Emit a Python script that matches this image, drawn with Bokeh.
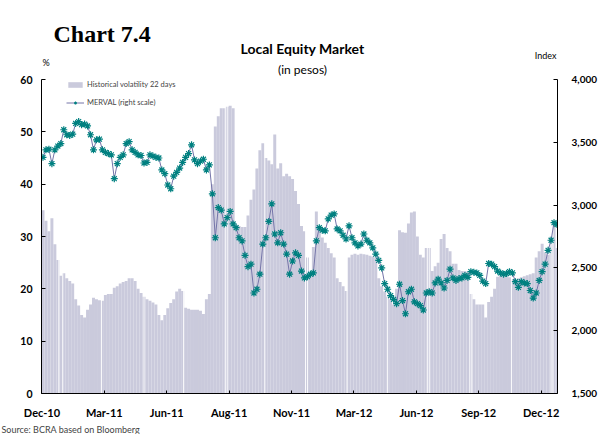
from bokeh.plotting import figure
from bokeh.models import (Range1d, LinearAxis, FixedTicker, NumeralTickFormatter,
                          Label, Legend, LegendItem, ColumnDataSource, Title)
from bokeh.embed import file_html
from bokeh.resources import INLINE

# ---- data ----
tick_days = [0, 63, 126, 189, 252, 315, 378, 441, 504]
tick_labels = ["Dec-10", "Mar-11", "Jun-11", "Aug-11", "Nov-11",
               "Mar-12", "Jun-12", "Sep-12", "Dec-12"]
sample_step_days = 3

# Historical volatility 22 days (%), one value every 3 trading days
volatility = [35, 33, 31, 33.5, 28.5, 25.5, 22.5, 23, 22, 21.5,
              21, 18, 16.8, 15, 14.5, 16, 17, 18.3, 18, 17.8,
              17.7, 18.8, 19, 19, 20.2, 20.5, 21, 21.3, 21.5, 22,
              22, 21.5, 20, 19.2, 18.5, 18, 17.7, 17.4, 17, 15,
              14, 15, 16.3, 17.3, 18, 19.5, 20, 19.6, 16.4, 16.2,
              16, 16, 16, 15.8, 15.2, 18, 19, 40, 51, 53,
              54.5, 54.5, 54.8, 55, 54.5, 32.3, 32, 31.8, 31.8, 34,
              37, 39, 43, 46.5, 47.8, 45, 44.5, 43.8, 49.5, 43,
              44, 41.5, 42, 41.5, 41, 38.7, 36.2, 32, 31, 26,
              23, 28, 34.8, 31.5, 29.8, 28.8, 27.8, 26.8, 26, 22,
              21.3, 20.5, 19.6, 26, 26.5, 26.7, 26.5, 26.7, 26.6, 26.5,
              26.3, 26.2, 26, 22, 20.5, 19.5, 18.5, 18, 17, 20,
              31.2, 30.8, 30.7, 32.5, 34.6, 34.8, 30, 26.5, 26, 27.8,
              27.8, 23.4, 24.3, 25, 29.5, 30.5, 27.8, 27.2, 24.8, 24.8,
              23.6, 23.4, 23.4, 23.2, 19, 18, 17, 17, 17, 14.5,
              17.5, 18.5, 20, 22.3, 22.8, 22.8, 22.5, 22.2, 21.8, 21.6,
              22, 22.2, 22.4, 22.6, 22.8, 23, 26, 27.2, 28.6, 27,
              26.5, 30, 32.4, 27.8]

# MERVAL index (right scale), one value every 3 trading days
merval = [3380, 3440, 3445, 3330, 3440, 3470, 3490, 3600, 3560, 3555,
          3565, 3650, 3665, 3640, 3645, 3630, 3560, 3440, 3520, 3525,
          3440, 3420, 3410, 3400, 3210, 3330, 3380, 3400, 3490, 3505,
          3440, 3420, 3400, 3395, 3335, 3340, 3400, 3390, 3380, 3375,
          3280, 3250, 3160, 3130, 3230, 3260, 3295, 3340, 3380, 3410,
          3480, 3360, 3330, 3350, 3365, 3280, 3320, 3090, 2740, 2980,
          2960, 2850, 2900, 2950, 2850, 2820, 2740, 2715, 2600, 2510,
          2530, 2300, 2330, 2450, 2690, 2740, 2870, 3010, 2770, 2700,
          2780, 2690, 2610, 2450, 2555, 2620, 2600, 2475, 2420, 2430,
          2450, 2460, 2715, 2820, 2800, 2795, 2890, 2920, 2930, 2810,
          2795, 2760, 2730, 2835, 2740, 2700, 2675, 2690, 2770, 2720,
          2700, 2660, 2610, 2560, 2500, 2375, 2330, 2280, 2250, 2215,
          2370, 2240, 2135, 2310, 2330, 2230, 2215, 2200, 2165, 2300,
          2310, 2300, 2380, 2410, 2380, 2340, 2400, 2490, 2420, 2400,
          2415, 2420, 2440, 2425, 2470, 2465, 2460, 2440, 2395, 2375,
          2535, 2530, 2510, 2475, 2460, 2450, 2455, 2470, 2460, 2390,
          2345, 2390, 2380, 2375, 2320, 2260, 2300, 2400, 2470, 2530,
          2640, 2720, 2860, 2845]

# trading days with no volatility observation
vol_gap_days = [17, 21, 60, 103, 143, 185, 187, 225, 266, 268, 308,
                349, 389, 391, 432, 434, 474, 514, 516]

vol_ticks = [0, 10, 20, 30, 40, 50, 60]
merval_ticks = [1500, 2000, 2500, 3000, 3500, 4000]

n_days = 521
days = [i * sample_step_days + 1 for i in range(len(volatility))]

# ---- styling / layout ----
FONT = "Lato"
BAR_COLOR = "#CACADC"
TEAL = "#008080"
LINE_COLOR = "#7474A8"

W, H = 600, 434
LEFT, RIGHT, BOTTOM = 41, 41, 41
PLOT_TOP = 79                      # pixel row of the 60 / 4,000 level
frame_h = H - BOTTOM               # frame reaches the top of the canvas
data_h = frame_h - PLOT_TOP
ext = frame_h / data_h             # range extension so titles fit in the frame

p = figure(width=W, height=H, output_backend="svg", toolbar_location=None,
           x_range=Range1d(-0.5, n_days - 0.5),
           y_range=Range1d(0, vol_ticks[-1] * ext),
           min_border_left=LEFT, min_border_right=RIGHT, min_border_top=0,
           min_border_bottom=BOTTOM)
p.extra_y_ranges = {"merval": Range1d(merval_ticks[0],
                                      merval_ticks[0] + (merval_ticks[-1] - merval_ticks[0]) * ext)}
p.outline_line_color = None
p.xgrid.visible = False
p.ygrid.visible = False
p.background_fill_color = "white"
p.border_fill_color = "white"

src = ColumnDataSource(dict(day=days, vol=volatility, merval=merval))

bars = p.vbar(x="day", top="vol", width=sample_step_days, source=src,
              fill_color=BAR_COLOR, line_color=None)
p.vbar(x=vol_gap_days, top=vol_ticks[-1], width=0.9, fill_color="white", line_color=None)

line = p.line(x="day", y="merval", source=src, y_range_name="merval",
              line_color=LINE_COLOR, line_width=1)
marks = p.scatter(x="day", y="merval", source=src, y_range_name="merval",
                  marker="asterisk", size=7, line_color=TEAL, line_width=1.2)

# axes
def style_axis(ax, fs="10.5px"):
    ax.axis_line_color = "black"
    ax.axis_line_width = 1
    ax.major_tick_line_color = "black"
    ax.major_tick_in = 4
    ax.major_tick_out = 0
    ax.minor_tick_line_color = None
    ax.major_label_text_font = FONT
    ax.major_label_text_font_style = "bold"
    ax.major_label_text_font_size = fs
    ax.major_label_text_color = "black"

xa = p.xaxis[0]
style_axis(xa, "11px")
xa.ticker = FixedTicker(ticks=tick_days)
xa.major_label_overrides = {d: lab for d, lab in zip(tick_days, tick_labels)}
xa.major_tick_in = 3
xa.major_label_standoff = 12

ya = p.yaxis[0]
style_axis(ya)
ya.ticker = FixedTicker(ticks=vol_ticks)
ya.bounds = (vol_ticks[0], vol_ticks[-1])
ya.major_label_standoff = 9

ra = LinearAxis(y_range_name="merval")
style_axis(ra, "10px")
ra.ticker = FixedTicker(ticks=merval_ticks)
ra.bounds = (merval_ticks[0], merval_ticks[-1])
ra.formatter = NumeralTickFormatter(format="0,0")
ra.major_label_standoff = 14
p.add_layout(ra, "right")

# legend
legend = Legend(items=[LegendItem(label="Historical volatility 22 days", renderers=[bars]),
                       LegendItem(label="MERVAL (right scale)", renderers=[line, marks])],
                location=(25, 286), glyph_width=18, glyph_height=7, label_height=7,
                spacing=9, padding=0, margin=0, border_line_color=None,
                background_fill_alpha=0, label_text_font=FONT,
                label_text_font_size="7.5px", label_standoff=3)
p.add_layout(legend)

# texts inside the (extended) frame, in left-scale data coordinates
px_per_day = (W - LEFT - RIGHT) / n_days
px_per_vol = data_h / vol_ticks[-1]

def at_x(px):
    return (px - LEFT) / px_per_day - 0.5

def at_y(py):
    return (frame_h - py) / px_per_vol

def add_text(txt, px, py, size, align="left", style="normal", font=FONT):
    p.add_layout(Label(x=at_x(px), y=at_y(py), text=txt, text_font=font,
                       text_font_size=size, text_font_style=style, text_align=align,
                       text_baseline="alphabetic", text_color="black"))

add_text("Chart 7.4", 53, 33, "24px", style="bold", font="Liberation Serif")
add_text("Local Equity Market", 303, 48, "14px", align="center", style="bold")
add_text("(in pesos)", 303, 69, "12px", align="center")
add_text("%", 42, 62, "9px")
add_text("Index", 558, 55, "9px", align="right")

p.add_layout(Title(text="Source: BCRA based on Bloomberg", align="left", offset=-LEFT + 1,
                   text_font=FONT, text_font_size="9px", text_font_style="normal",
                   standoff=0), "below")

open("out.html", "w").write(file_html(p, INLINE))
